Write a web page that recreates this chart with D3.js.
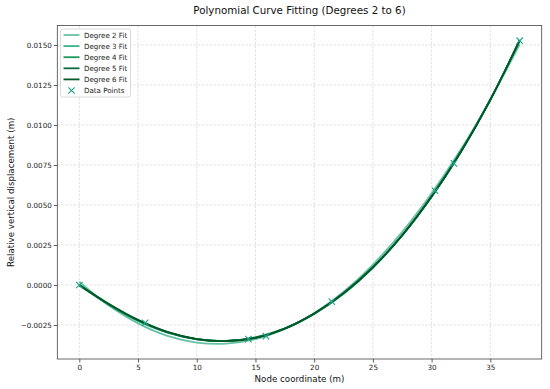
<!DOCTYPE html>
<html>
<head>
<meta charset="utf-8">
<script src="https://cdn.jsdelivr.net/npm/d3@7"></script>
<style>
  html, body { margin: 0; padding: 0; background: #fff; }
  svg { display: block; font-family: "DejaVu Sans", sans-serif; }
</style>
</head>
<body>
<svg id="chart" width="550" height="389"></svg>
<script>
// ---- data (values in metres) ----
const dataX = [0, 5.6, 14.4, 15.9, 21.5, 30.3, 31.9, 37.5];
const dataY = [0, -0.00236, -0.00338, -0.00320, -0.00104, 0.00589, 0.00760, 0.01527];

const fitX = [0, 2.5, 5, 7.5, 10, 12.5, 15, 17.5, 20, 22.5, 25, 27.5, 30, 32.5, 35, 37.5];
const deg2 = [0.00021, -0.00127, -0.00240, -0.00318, -0.00360, -0.00367, -0.00339, -0.00275, -0.00176, -0.00042, 0.00128, 0.00332, 0.00573, 0.00848, 0.01159, 0.01505];
const deg3 = [0.00004, -0.00125, -0.00225, -0.00297, -0.00339, -0.00349, -0.00327, -0.00272, -0.00181, -0.00055, 0.00109, 0.00311, 0.00553, 0.00835, 0.01160, 0.01527];
const deg4 = [0.00001, -0.00122, -0.00223, -0.00296, -0.00339, -0.00350, -0.00328, -0.00271, -0.00180, -0.00054, 0.00109, 0.00310, 0.00552, 0.00835, 0.01160, 0.01528];
const deg5 = [-0.00003, -0.00120, -0.00220, -0.00294, -0.00338, -0.00350, -0.00330, -0.00272, -0.00179, -0.00052, 0.00110, 0.00311, 0.00553, 0.00834, 0.01158, 0.01529];
const deg6 = [0.00000, -0.00117, -0.00218, -0.00293, -0.00338, -0.00351, -0.00331, -0.00273, -0.00178, -0.00051, 0.00111, 0.00312, 0.00554, 0.00833, 0.01156, 0.01530];

const seriesNames = ["Degree 2 Fit", "Degree 3 Fit", "Degree 4 Fit", "Degree 5 Fit", "Degree 6 Fit"];
const seriesColors = ["#66c2a4", "#3db38a", "#1f9a5e", "#0b6e3a", "#00582a"];
const seriesValues = [deg2, deg3, deg4, deg5, deg6];
const pointLabel = "Data Points";
const pointColor = "#1fa187";

const xTicks = [0, 5, 10, 15, 20, 25, 30, 35];
const yTicks = [-0.0025, 0, 0.0025, 0.005, 0.0075, 0.01, 0.0125, 0.015];

const titleText = "Polynomial Curve Fitting (Degrees 2 to 6)";
const xLabel = "Node coordinate (m)";
const yLabel = "Relative vertical displacement (m)";

// ---- layout ----
const L = 57.3, R = 541.7, T = 25.5, B = 359;
const svg = d3.select("#chart");

const x = d3.scaleLinear().domain([-1.875, 39.375]).range([L, R]);
const y = d3.scaleLinear().domain([-0.004625, 0.01622]).range([B, T]);

// grid
const grid = svg.append("g");
grid.selectAll("line.vx").data(xTicks).join("line")
  .attr("x1", d => x(d)).attr("x2", d => x(d)).attr("y1", T).attr("y2", B)
  .attr("stroke", "#d6d6d6").attr("stroke-width", 0.7).attr("stroke-dasharray", "2.5,1.5");
grid.selectAll("line.hy").data(yTicks).join("line")
  .attr("x1", L).attr("x2", R).attr("y1", d => y(d)).attr("y2", d => y(d))
  .attr("stroke", "#d6d6d6").attr("stroke-width", 0.7).attr("stroke-dasharray", "2.5,1.5");

// axes
const fmtY = d => (d < 0 ? "\u2212" : "") + Math.abs(d).toFixed(4);
const xAxis = d3.axisBottom(x).tickValues(xTicks).tickSize(3.5).tickPadding(2.5).tickFormat(d3.format("d"));
const yAxis = d3.axisLeft(y).tickValues(yTicks).tickSize(3.5).tickPadding(2).tickFormat(fmtY);

const gx = svg.append("g").attr("transform", `translate(0,${B})`).call(xAxis);
const gy = svg.append("g").attr("transform", `translate(${L},0)`).call(yAxis);
[gx, gy].forEach(g => {
  g.select(".domain").remove();
  g.selectAll(".tick line").attr("stroke", "#333").attr("stroke-width", 0.8);
  g.selectAll(".tick text").attr("fill", "#222").attr("font-size", 7.2).attr("font-family", "DejaVu Sans");
});

// curves
const line = d3.line().x(d => x(d[0])).y(d => y(d[1])).curve(d3.curveCatmullRom.alpha(0.5));
const curves = svg.append("g");
seriesValues.forEach((vals, i) => {
  curves.append("path")
    .attr("d", line(fitX.map((xv, j) => [xv, vals[j]])))
    .attr("fill", "none").attr("stroke", seriesColors[i]).attr("stroke-width", 1.8);
});

// data points (x markers)
const ms = 3.2;
const pts = svg.append("g");
dataX.forEach((xv, i) => {
  const cx = x(xv), cy = y(dataY[i]);
  pts.append("path")
    .attr("d", `M${cx - ms},${cy - ms}L${cx + ms},${cy + ms}M${cx - ms},${cy + ms}L${cx + ms},${cy - ms}`)
    .attr("stroke", pointColor).attr("stroke-width", 1.1).attr("fill", "none");
});

// frame
svg.append("rect").attr("x", L).attr("y", T).attr("width", R - L).attr("height", B - T)
  .attr("fill", "none").attr("stroke", "#444").attr("stroke-width", 0.8);

// legend
const lg = svg.append("g");
lg.append("rect").attr("x", 60.5).attr("y", 29).attr("width", 70).attr("height", 68).attr("rx", 2)
  .attr("fill", "#fff").attr("fill-opacity", 0.85).attr("stroke", "#d0d0d0").attr("stroke-width", 0.8);
const rowY = i => 35 + i * 11.1;
seriesNames.forEach((name, i) => {
  lg.append("line").attr("x1", 63.5).attr("x2", 79.5).attr("y1", rowY(i)).attr("y2", rowY(i))
    .attr("stroke", seriesColors[i]).attr("stroke-width", 1.8);
  lg.append("text").attr("x", 84).attr("y", rowY(i) + 2.5).attr("font-size", 7.1).attr("fill", "#222").text(name);
});
{
  const cx = 71.5, cy = rowY(5);
  lg.append("path")
    .attr("d", `M${cx - ms},${cy - ms}L${cx + ms},${cy + ms}M${cx - ms},${cy + ms}L${cx + ms},${cy - ms}`)
    .attr("stroke", pointColor).attr("stroke-width", 1.1);
  lg.append("text").attr("x", 84).attr("y", cy + 2.5).attr("font-size", 7.1).attr("fill", "#222").text(pointLabel);
}

// titles
svg.append("text").attr("x", (L + R) / 2).attr("y", 13.8).attr("text-anchor", "middle")
  .attr("font-size", 10.3).attr("fill", "#111").text(titleText);
svg.append("text").attr("x", (L + R) / 2).attr("y", 382).attr("text-anchor", "middle")
  .attr("font-size", 8.7).attr("fill", "#111").text(xLabel);
svg.append("text").attr("transform", `translate(13.6,${(T + B) / 2}) rotate(-90)`).attr("text-anchor", "middle")
  .attr("font-size", 8.7).attr("fill", "#111").text(yLabel);
</script>
</body>
</html>
